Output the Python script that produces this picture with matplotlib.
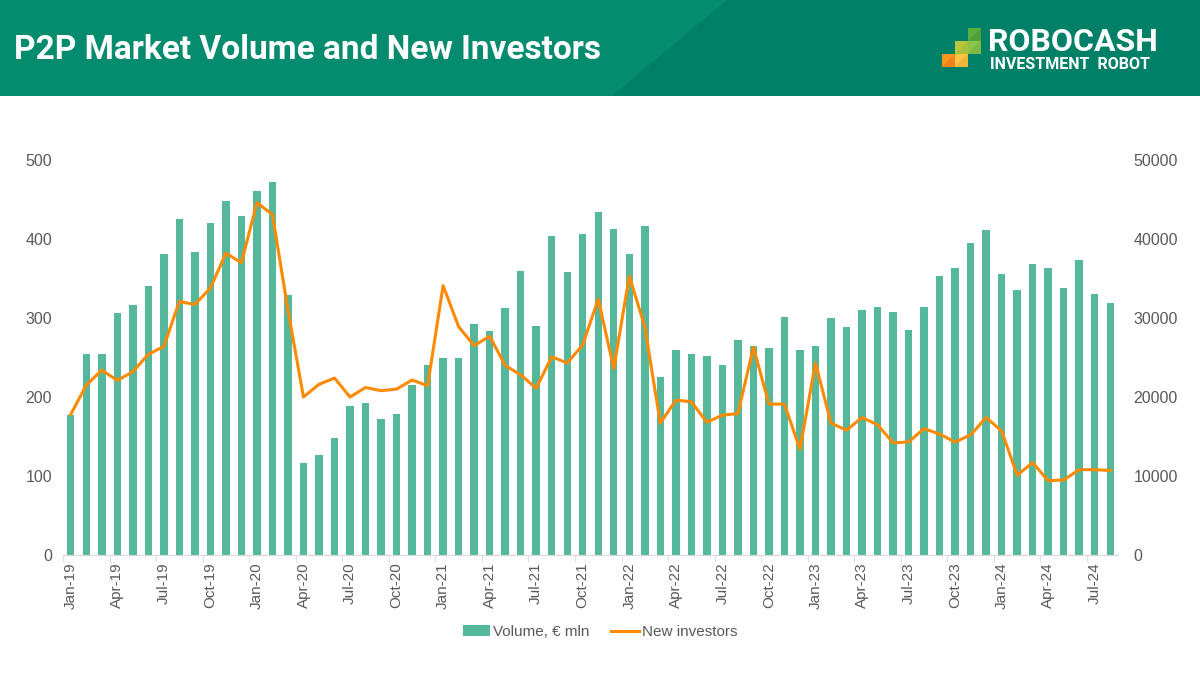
import numpy as np
import matplotlib.pyplot as plt
from matplotlib.patches import Rectangle, Polygon

# monthly data Jan-19 .. Aug-24
months = ['Jan', 'Feb', 'Mar', 'Apr', 'May', 'Jun', 'Jul', 'Aug', 'Sep', 'Oct', 'Nov', 'Dec']
labels = [f"{m}-{y}" for y in range(19, 25) for m in months][:68]

volume = [177, 254, 254, 306, 316, 341, 381, 425, 383, 420, 448, 429,
          461, 472, 329, 117, 127, 148, 189, 192, 172, 179, 215, 240,
          250, 250, 293, 283, 313, 360, 290, 404, 358, 406, 434, 413,
          381, 417, 225, 260, 255, 252, 241, 272, 264, 262, 301, 260,
          264, 300, 289, 310, 314, 308, 285, 314, 353, 363, 395, 411,
          356, 335, 368, 363, 338, 373, 331, 319]

new_investors = [17800, 21500, 23400, 22100, 23200, 25400, 26400, 32100, 31700, 33800, 38200, 37000,
                 44600, 43100, 31000, 20000, 21600, 22400, 20000, 21200, 20800, 21000, 22150, 21430,
                 34100, 28900, 26500, 27700, 24000, 22800, 21100, 25100, 24300, 26600, 32400, 23600,
                 35300, 28900, 16700, 19600, 19400, 16800, 17700, 17900, 26300, 19100, 19100, 13400,
                 24300, 16700, 15800, 17400, 16500, 14200, 14300, 16000, 15300, 14300, 15200, 17400,
                 15700, 10100, 11700, 9400, 9500, 10800, 10800, 10700]

GREEN = '#55B79B'
ORANGE = '#FF8A00'
GREY = '#595959'

plt.rcParams['font.family'] = ['Liberation Sans', 'DejaVu Sans']

fig = plt.figure(figsize=(12, 6.75), dpi=100)
fig.patch.set_facecolor('white')

# header band
W, H = 1200, 675
def fx(x): return x / W
def fy(y): return 1 - y / H

fig.patches.append(Rectangle((0, fy(96)), 1, 96 / H, transform=fig.transFigure,
                             facecolor='#058B6D', edgecolor='none', zorder=0))
fig.patches.append(Polygon([(fx(727), fy(0)), (1, fy(0)), (1, fy(96)), (fx(612), fy(96))],
                           closed=True, transform=fig.transFigure,
                           facecolor='#008066', edgecolor='none', zorder=0))
fig.text(fx(14), fy(50), 'P2P Market Volume and New Investors', color='white',
         fontsize=24, fontweight='bold', family='Roboto', va='center', ha='left')

# logo squares
s = 12.8
sq = [(968, 28, '#5AAE3E', '#4E9E3A'), (968, 41, '#8CC34B', '#7DB844'),
      (955, 41, '#B9C83A', '#A8BF3A'), (955, 54, '#F8C444', '#F2B33A'),
      (942, 54, '#F8961E', '#F0821A')]
for x, y, c1, c2 in sq:
    fig.patches.append(Rectangle((fx(x), fy(y + s)), s / W, s / H, transform=fig.transFigure,
                                 facecolor=c1, edgecolor='none', zorder=1))
    fig.patches.append(Polygon([(fx(x), fy(y + s)), (fx(x + s), fy(y)), (fx(x + s), fy(y + s))],
                               closed=True, transform=fig.transFigure,
                               facecolor=c2, edgecolor='none', zorder=1))
fig.text(fx(988), fy(51), 'ROBOCASH', color='white', fontsize=23, fontweight='bold',
         family='Roboto', va='baseline', ha='left')
fig.text(fx(990), fy(69), 'INVESTMENT  ROBOT', color='white',
         fontsize=11.5, fontweight='bold', family='Roboto', va='baseline', ha='left')

# chart
ax = fig.add_axes([fx(63), fy(555), (1118 - 63) / W, (555 - 160) / H])
x = np.arange(len(volume))
bars = ax.bar(x, volume, width=0.48, color=GREEN, label='Volume, € mln', zorder=2)
ax.set_ylim(0, 500)
ax.set_xlim(-0.5, len(volume) - 0.5)
ax.set_yticks(range(0, 501, 100))

ax2 = ax.twinx()
line, = ax2.plot(x, new_investors, color=ORANGE, lw=2.2, label='New investors', zorder=3)
ax2.set_ylim(0, 50000)
ax2.set_yticks(range(0, 50001, 10000))

ax.set_xticks(x[::3])
ax.set_xticklabels(labels[::3], rotation=90)
ax.set_xticks(np.arange(-0.5, len(volume), 3), minor=True)
ax.tick_params(axis='x', which='major', length=0, pad=5, labelsize=11, labelcolor=GREY)
ax.tick_params(axis='x', which='minor', length=5, color='#D9D9D9')
ax.tick_params(axis='y', length=0, labelsize=11.5, labelcolor=GREY, pad=8)
ax2.tick_params(axis='y', length=0, labelsize=11.5, labelcolor=GREY, pad=11)

for a in (ax, ax2):
    for sp in ('top', 'left', 'right'):
        a.spines[sp].set_visible(False)
    a.spines['bottom'].set_color('#D9D9D9')

fig.legend(handles=[bars, line], labels=['Volume, € mln', 'New investors'],
           loc='center', bbox_to_anchor=(0.5, fy(632)), ncol=2, frameon=False,
           fontsize=11, labelcolor=GREY, handlelength=1.8, handletextpad=0.2,
           columnspacing=1.4)

fig.savefig('out.png', dpi=100)
